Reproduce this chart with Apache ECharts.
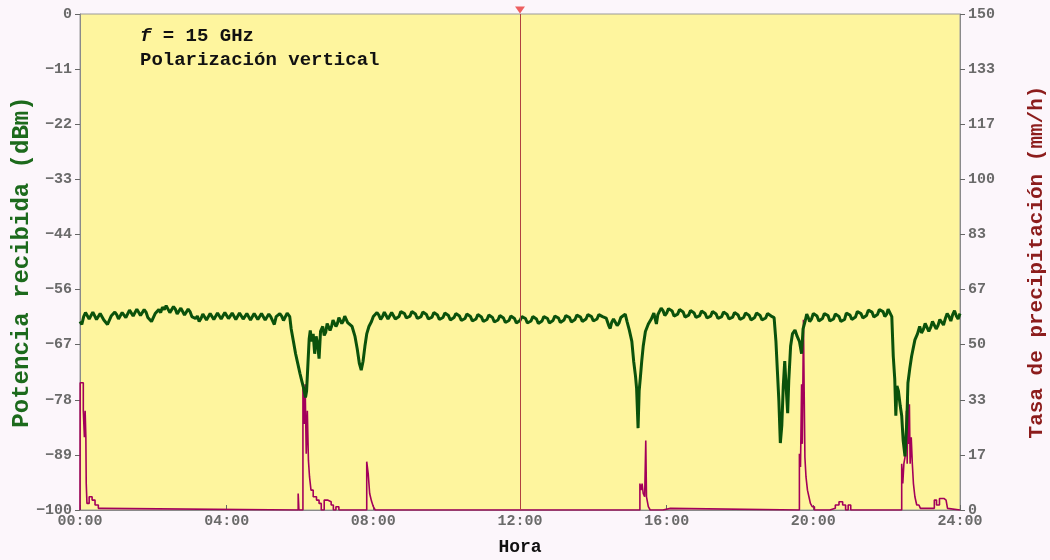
<!DOCTYPE html>
<html>
<head>
<meta charset="utf-8">
<script src="https://cdn.jsdelivr.net/npm/echarts@6/dist/echarts.min.js"></script>
<style>
html,body{margin:0;padding:0;background:#fcf6fb;}
#chart{width:1050px;height:560px;}
</style>
</head>
<body>
<div id="chart"></div>
<script>
// ---- tick labels ----
const horaLabels = ['00:00','04:00','08:00','12:00','16:00','20:00','24:00'];
const potenciaTicks = ['\u2212100','\u221289','\u221278','\u221267','\u221256','\u221244','\u221233','\u221222','\u221211','0'];
const lluviaTicks = ['0','17','33','50','67','83','100','117','133','150'];

// ---- received power (hour, dBm) ----
const potencia = [
 [0.0,-62.0],[0.05,-62.6],[0.1,-61.0],[0.15,-60.2],[0.2,-60.3],[0.25,-61.5],[0.3,-61.2],[0.35,-60.1],[0.4,-60.5],[0.45,-61.6],[0.5,-61.4],[0.55,-60.4],[0.6,-60.6],[0.65,-61.7],[0.7,-61.5],[0.75,-62.6],[0.8,-62.2],[0.85,-60.9],[0.9,-61.0],[0.95,-60.1],
 [1.0,-60.6],[1.05,-61.5],[1.1,-61.3],[1.15,-60.2],[1.2,-60.4],[1.25,-61.2],[1.3,-60.9],[1.35,-59.7],[1.4,-60.0],[1.45,-60.9],[1.5,-60.6],[1.55,-59.5],[1.6,-59.9],[1.65,-60.8],[1.7,-60.5],[1.75,-59.6],[1.8,-60.1],[1.85,-61.2],[1.9,-61.0],[1.95,-62.0],
 [2.0,-61.6],[2.05,-60.4],[2.1,-60.8],[2.15,-59.6],[2.2,-60.2],[2.25,-59.1],[2.3,-59.6],[2.35,-58.8],[2.4,-59.2],[2.45,-60.2],[2.5,-59.9],[2.55,-59.0],[2.6,-59.5],[2.65,-60.5],[2.7,-60.2],[2.75,-59.3],[2.8,-59.7],[2.85,-60.7],[2.9,-60.3],[2.95,-59.5],
 [3.0,-60.0],[3.05,-61.0],[3.1,-60.6],[3.15,-61.4],[3.2,-60.9],[3.25,-62.0],[3.3,-61.4],[3.35,-60.5],[3.4,-60.8],[3.45,-61.7],[3.5,-61.3],[3.55,-60.4],[3.6,-60.7],[3.65,-61.6],[3.7,-61.2],[3.75,-60.3],[3.8,-60.6],[3.85,-61.5],[3.9,-61.1],[3.95,-60.2],
 [4.0,-60.5],[4.05,-61.4],[4.1,-61.0],[4.15,-60.3],[4.2,-60.7],[4.25,-61.6],[4.3,-61.2],[4.35,-60.3],[4.4,-60.6],[4.45,-61.5],[4.5,-61.1],[4.55,-60.4],[4.6,-60.8],[4.65,-61.7],[4.7,-61.3],[4.75,-60.4],[4.8,-60.7],[4.85,-61.6],[4.9,-61.2],[4.95,-60.4],
 [5.0,-60.8],[5.05,-61.7],[5.1,-61.3],[5.15,-60.5],[5.2,-61.0],[5.25,-61.8],[5.3,-62.6],[5.35,-61.0],[5.4,-61.2],[5.45,-60.4],[5.5,-60.9],[5.55,-61.8],[5.6,-61.4],[5.65,-60.3],[5.72,-61.0],
 [5.76,-63.5],[5.82,-66.0],[5.88,-68.5],[5.94,-70.5],[6.0,-72.5],[6.05,-74.0],[6.1,-75.5],[6.15,-77.3],[6.18,-76.0],
 [6.21,-71.5],[6.25,-65.5],[6.28,-63.8],[6.32,-66.0],[6.36,-64.5],[6.40,-68.5],[6.44,-65.0],[6.48,-66.5],[6.52,-69.5],
 [6.56,-64.0],[6.62,-63.0],[6.66,-64.8],[6.7,-64.2],[6.74,-62.4],[6.78,-62.5],[6.82,-63.8],[6.86,-63.0],[6.9,-61.7],[6.94,-62.0],[6.98,-63.0],[7.02,-62.4],[7.06,-61.2],[7.1,-61.4],[7.14,-62.4],[7.18,-61.9],
 [7.22,-60.9],[7.26,-61.2],[7.3,-62.2],[7.34,-62.0],[7.42,-63.0],[7.5,-65.0],[7.56,-67.5],[7.62,-70.5],[7.67,-71.8],[7.72,-70.0],[7.77,-67.0],
 [7.82,-64.5],[7.88,-63.0],[7.95,-62.0],[8.0,-61.0],[8.05,-61.2],[8.1,-60.2],[8.15,-60.7],[8.2,-61.6],[8.25,-61.0],[8.3,-60.1],[8.35,-60.5],[8.4,-61.5],[8.45,-61.1],[8.5,-60.2],[8.55,-60.6],
 [8.6,-61.5],[8.7,-61.0],[8.75,-60.0],[8.85,-60.4],[8.9,-61.3],[9.0,-60.9],[9.05,-60.0],[9.15,-60.5],[9.2,-61.4],[9.3,-61.0],[9.35,-60.1],[9.45,-60.6],[9.5,-61.5],[9.6,-61.1],[9.65,-60.2],[9.75,-60.7],[9.8,-61.6],[9.9,-61.2],
 [9.95,-60.3],[10.05,-60.8],[10.1,-61.7],[10.2,-61.2],[10.25,-60.4],[10.35,-60.9],[10.4,-61.8],[10.5,-61.4],[10.55,-60.5],[10.65,-61.0],[10.7,-61.9],[10.8,-61.5],[10.85,-60.6],[10.95,-61.1],[11.0,-62.0],[11.1,-61.6],[11.15,-60.7],[11.25,-61.2],
 [11.3,-62.1],[11.4,-61.7],[11.45,-60.8],[11.55,-61.3],[11.6,-62.2],[11.7,-61.8],[11.75,-60.9],[11.85,-61.4],[11.9,-62.3],[12.0,-61.8],[12.05,-61.0],[12.15,-61.4],[12.2,-62.3],[12.3,-61.9],[12.35,-61.0],[12.45,-61.5],[12.5,-62.4],[12.6,-61.9],
 [12.65,-61.0],[12.75,-61.4],[12.8,-62.3],[12.9,-61.8],[12.95,-60.9],[13.05,-61.3],[13.1,-62.2],[13.2,-61.7],[13.25,-60.8],[13.35,-61.2],[13.4,-62.1],[13.5,-61.6],[13.55,-60.7],[13.65,-61.1],[13.7,-62.0],[13.8,-61.5],[13.85,-60.6],[13.95,-61.0],
 [14.0,-61.9],[14.1,-61.5],[14.15,-60.6],[14.25,-61.0],[14.35,-61.3],[14.42,-62.8],[14.46,-63.4],[14.5,-62.2],[14.55,-61.5],[14.6,-61.8],[14.65,-62.8],[14.7,-62.3],[14.75,-61.2],[14.8,-61.0],[14.87,-60.5],
 [14.92,-62.0],[14.98,-63.7],[15.05,-66.0],[15.1,-70.0],[15.15,-73.0],[15.18,-75.5],[15.22,-83.5],[15.25,-76.0],[15.28,-73.5],
 [15.32,-70.0],[15.36,-67.0],[15.42,-64.0],[15.5,-62.5],[15.58,-61.5],[15.65,-60.3],[15.72,-62.5],[15.76,-60.6],[15.8,-60.0],[15.85,-59.3],[15.9,-59.8],[15.95,-60.8],
 [16.0,-60.3],[16.05,-59.4],[16.15,-59.9],[16.2,-60.9],[16.3,-60.5],[16.35,-59.6],[16.45,-60.1],[16.5,-61.1],[16.6,-60.7],[16.65,-59.8],[16.75,-60.3],[16.8,-61.2],[16.9,-60.8],[16.95,-59.9],[17.05,-60.4],[17.1,-61.3],[17.2,-60.9],
 [17.25,-60.0],[17.35,-60.5],[17.4,-61.4],[17.5,-61.0],[17.55,-60.1],[17.65,-60.6],[17.7,-61.5],[17.8,-61.1],[17.85,-60.2],[17.95,-60.7],[18.0,-61.6],[18.1,-61.2],[18.15,-60.3],[18.25,-60.8],[18.3,-61.7],[18.4,-61.2],[18.45,-60.3],[18.55,-60.8],
 [18.6,-61.7],[18.7,-61.3],[18.75,-60.4],[18.85,-60.9],[18.93,-61.2],[18.98,-66.0],[19.02,-72.0],[19.06,-78.0],[19.1,-86.5],[19.14,-83.0],[19.18,-75.0],
 [19.22,-70.0],[19.26,-75.5],[19.3,-80.5],[19.33,-74.0],[19.38,-67.0],[19.43,-64.5],[19.5,-63.7],[19.56,-65.0],[19.62,-66.0],
 [19.68,-68.5],[19.72,-63.5],[19.78,-61.8],[19.82,-60.5],[19.85,-61.0],[19.9,-62.0],[19.95,-61.5],[20.0,-60.4],[20.1,-60.9],[20.15,-61.9],[20.25,-61.4],[20.3,-60.4],[20.4,-60.8],[20.45,-61.9],[20.55,-61.5],
 [20.6,-60.5],[20.7,-61.0],[20.75,-62.0],[20.85,-61.6],[20.9,-60.3],[21.0,-60.7],[21.05,-61.6],[21.15,-61.1],[21.2,-60.0],[21.3,-60.4],[21.35,-61.3],[21.45,-60.8],[21.5,-59.7],[21.6,-60.1],[21.65,-61.1],[21.75,-60.6],[21.8,-59.6],[21.9,-60.0],
 [21.95,-61.0],[22.0,-60.5],[22.04,-59.5],[22.08,-60.1],[22.14,-61.0],[22.18,-69.0],[22.22,-73.5],[22.25,-81.0],[22.28,-75.0],[22.32,-76.0],[22.37,-79.0],
 [22.41,-81.0],[22.45,-86.0],[22.5,-89.2],[22.55,-82.0],[22.58,-74.4],[22.63,-71.5],[22.68,-69.0],[22.77,-65.7],[22.84,-64.5],
 [22.9,-63.0],[22.95,-64.3],[23.0,-63.6],[23.05,-62.4],[23.1,-62.8],[23.15,-64.0],[23.2,-63.2],[23.25,-62.0],[23.3,-62.4],[23.35,-63.5],[23.4,-62.8],[23.45,-61.6],[23.5,-61.8],[23.55,-62.7],
 [23.6,-61.4],[23.65,-60.4],[23.7,-61.0],[23.75,-61.9],[23.8,-60.6],[23.85,-59.8],[23.9,-60.9],[23.95,-61.5],[24.0,-60.4]
];

// ---- rain rate (hour, mm/h) ----
const lluvia = [
 [0,0],[0.005,38.5],[0.09,30],[0.12,22],[0.14,30],[0.16,22],[0.17,8],[0.19,2],[0.25,4],[0.33,3],[0.41,1.5],[0.5,0.5],[0.59,0],
 [5.95,5],[5.97,0],[6.08,38.4],[6.12,26],[6.14,38],[6.17,17],[6.2,30],[6.23,15],[6.26,10],[6.3,6],[6.36,4],[6.45,3],[6.52,2],
 [6.58,0],[6.66,3],[6.75,2.5],[6.85,1.5],[6.91,0],[6.98,1],[7.06,0],
 [7.82,14.6],[7.86,11],[7.9,5],[7.95,2.7],[8.0,1],[8.05,0],
 [15.27,8],[15.3,6],[15.33,8],[15.36,5],[15.4,4],[15.43,21],[15.45,4],[15.5,1],[15.55,0],[15.9,0.5],[16.1,0],
 [19.62,17],[19.65,13],[19.68,38],[19.7,20],[19.72,45],[19.73,57.5],[19.75,36],[19.77,16],[19.8,10],[19.84,6],[19.88,4],
 [19.92,2],[19.97,1],[20.03,0],[20.45,0.5],[20.6,1.5],[20.7,2.5],[20.8,1.5],[20.88,0],[20.95,1.5],[21.02,0],[21.1,0.5],[21.15,0],
 [22.41,14],[22.44,8],[22.47,14],[22.5,16],[22.54,30],[22.56,14],[22.58,38.4],[22.6,20],[22.62,32],[22.64,14],[22.67,22],
 [22.7,14],[22.73,8],[22.77,4],[22.82,1.5],[22.88,1],[22.92,0.5],[23.3,3],[23.36,1.5],[23.44,3.5],[23.56,3],[23.62,3.5],
 [23.66,0.5],[23.7,0],[24,0]
];

const marcaHora = 12;

const FONT = 'Liberation Mono';
const chart = echarts.init(document.getElementById('chart'));
chart.setOption({
  backgroundColor: '#fcf6fb',
  animation: false,
  grid: { left: 80, right: 90, top: 14, bottom: 50, show: true, containLabel: false, outerBoundsMode: 'none',
          backgroundColor: '#fef59e', borderColor: '#9a9a9a', borderWidth: 1 },
  xAxis: {
    type: 'value', min: 0, max: 24, interval: 4,
    name: 'Hora', nameLocation: 'middle', nameGap: 28,
    nameTextStyle: { fontFamily: FONT, fontWeight: 'bold', fontSize: 18, color: '#111' },
    axisLine: { onZero: false, lineStyle: { color: '#8a8a8a' } },
    axisTick: { inside: true, length: 5, lineStyle: { color: '#666' } },
    splitLine: { show: false },
    axisLabel: { fontFamily: FONT, fontWeight: 'bold', fontSize: 15, color: '#6a6a6a', margin: 4,
                 formatter: v => horaLabels[Math.round(v / 4)] }
  },
  yAxis: [{
    type: 'value', min: -100, max: 0, interval: 100 / 9, position: 'left',
    name: 'Potencia recibida (dBm)', nameLocation: 'middle', nameGap: 46, nameRotate: 90,
    nameMoveOverlap: false,
    nameTextStyle: { fontFamily: FONT, fontWeight: 'bold', fontSize: 24, color: '#1c6a1c' },
    axisLine: { show: true, lineStyle: { color: '#8a8a8a' } },
    axisTick: { show: true, length: 5, lineStyle: { color: '#666' } },
    splitLine: { show: false },
    axisLabel: { fontFamily: FONT, fontWeight: 'bold', fontSize: 15, color: '#6a6a6a', margin: 8,
                 formatter: v => potenciaTicks[Math.round((v + 100) / (100 / 9))] }
  }, {
    type: 'value', min: 0, max: 150, interval: 150 / 9, position: 'right',
    name: 'Tasa de precipitación (mm/h)', nameLocation: 'middle', nameGap: 66, nameRotate: 90,
    nameTextStyle: { fontFamily: FONT, fontWeight: 'bold', fontSize: 21, color: '#8c1c1c' },
    axisLine: { show: true, lineStyle: { color: '#8a8a8a' } },
    axisTick: { show: true, length: 5, lineStyle: { color: '#666' } },
    splitLine: { show: false },
    axisLabel: { fontFamily: FONT, fontWeight: 'bold', fontSize: 15, color: '#6a6a6a', margin: 8,
                 formatter: v => lluviaTicks[Math.round(v / (150 / 9))] }
  }],
  graphic: [
    { type: 'text', left: 140, top: 27, silent: true,
      style: { text: '{i|f} = 15 GHz', fill: '#111',
               font: 'bold 19px "Liberation Mono"',
               rich: { i: { fontStyle: 'italic', fontWeight: 'bold', fontSize: 19, fontFamily: FONT, fill: '#111' } } } },
    { type: 'text', left: 140, top: 51, silent: true,
      style: { text: 'Polarización vertical', fill: '#111', font: 'bold 19px "Liberation Mono"' } }
  ],
  series: [{
    type: 'line', name: 'lluvia', yAxisIndex: 1, data: lluvia, step: 'end',
    symbol: 'none', lineStyle: { color: '#a3005a', width: 1.6 }, z: 3
  }, {
    type: 'line', name: 'potencia', yAxisIndex: 0, data: potencia,
    symbol: 'none', lineStyle: { color: '#0b520b', width: 3 }, z: 4,
    markLine: { silent: true, symbol: 'none', label: { show: false },
      lineStyle: { color: '#b04040', width: 1, type: 'solid' },
      data: [{ xAxis: marcaHora }] }
  }, {
    type: 'scatter', yAxisIndex: 0, data: [[marcaHora, 0]], clip: false, silent: true,
    symbol: 'triangle', symbolRotate: 180, symbolSize: [10, 7], symbolOffset: [0, -4],
    itemStyle: { color: '#e83a3a' }, z: 6
  }]
});
</script>
</body>
</html>
